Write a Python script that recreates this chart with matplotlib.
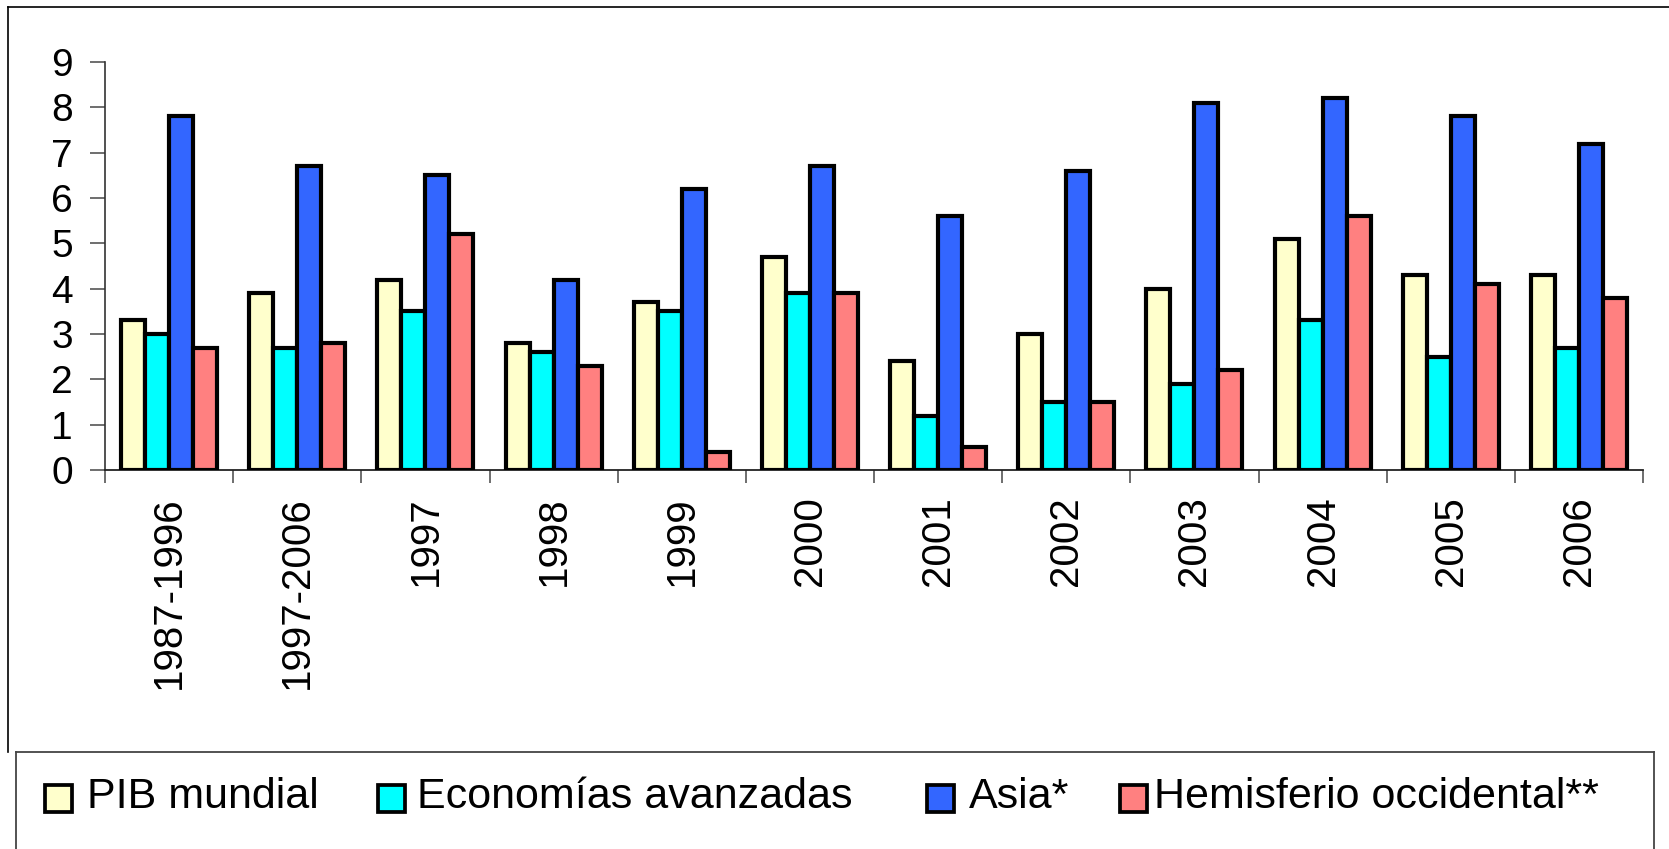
import matplotlib
matplotlib.use("Agg")
import matplotlib.pyplot as plt
import numpy as np
from matplotlib.patches import Rectangle
from matplotlib.lines import Line2D

plt.rcParams['font.family'] = ['Liberation Sans', 'DejaVu Sans']

categories = ["1987-1996", "1997-2006", "1997", "1998", "1999", "2000",
              "2001", "2002", "2003", "2004", "2005", "2006"]
series_names = ["PIB mundial", "Economías avanzadas", "Asia*", "Hemisferio occidental**"]
pib_mundial = [3.3, 3.9, 4.2, 2.8, 3.7, 4.7, 2.4, 3.0, 4.0, 5.1, 4.3, 4.3]
economias_avanzadas = [3.0, 2.7, 3.5, 2.6, 3.5, 3.9, 1.2, 1.5, 1.9, 3.3, 2.5, 2.7]
asia = [7.8, 6.7, 6.5, 4.2, 6.2, 6.7, 5.6, 6.6, 8.1, 8.2, 7.8, 7.2]
hemisferio = [2.7, 2.8, 5.2, 2.3, 0.4, 3.9, 0.5, 1.5, 2.2, 5.6, 4.1, 3.8]
y_ticks = [0, 1, 2, 3, 4, 5, 6, 7, 8, 9]

colors = ["#FFFFCC", "#00FFFF", "#3366FF", "#FF8080"]
series = [pib_mundial, economias_avanzadas, asia, hemisferio]

W, H = 1669, 849
fig = plt.figure(figsize=(W / 100, H / 100), dpi=100)
ax = fig.add_axes([105 / W, 1 - 470 / H, (1643 - 105) / W, (470 - 62) / H])

x = np.arange(len(categories))
bw = 0.187
for i, (vals, c) in enumerate(zip(series, colors)):
    ax.bar(x + (i - 1.5) * bw, vals, width=bw, color=c, edgecolor="black",
           linewidth=3.0, label=series_names[i], zorder=3)

ax.set_xlim(-0.5, len(categories) - 0.5)
ax.set_ylim(0, 9)
ax.set_yticks(y_ticks)
ax.set_yticklabels([str(v) for v in y_ticks], fontsize=28)
ax.set_xticks(x)
ax.set_xticklabels(categories, rotation=90, fontsize=29)
ax.set_xticks(np.arange(-0.5, len(categories) + 0.5, 1), minor=True)
ax.tick_params(axis='x', which='major', length=0, pad=19)
ax.tick_params(axis='x', which='minor', length=9, width=1.2, color='#555555', direction='out')
ax.tick_params(axis='y', which='major', length=11, width=1.2, color='#555555', direction='out', pad=12)

for s in ['top', 'right']:
    ax.spines[s].set_visible(False)
ax.spines['left'].set_color('#333333')
ax.spines['left'].set_linewidth(1.2)
ax.spines['bottom'].set_color('#222222')
ax.spines['bottom'].set_linewidth(1.3)


def fx(px):
    return px / W


def fy(py):
    return 1 - py / H


# outer chart frame (top + left) and legend box
fig.add_artist(Line2D([fx(8), fx(W)], [fy(7), fy(7)], color='black', lw=1.2))
fig.add_artist(Line2D([fx(8), fx(8)], [fy(7), fy(752)], color='black', lw=1.2))
fig.add_artist(Line2D([fx(16), fx(1654)], [fy(752), fy(752)], color='#444444', lw=1.3))
fig.add_artist(Line2D([fx(16), fx(16)], [fy(752), fy(H)], color='#444444', lw=1.3))
fig.add_artist(Line2D([fx(1654), fx(1654)], [fy(752), fy(H)], color='#444444', lw=1.3))

# legend (manual)
sq_x = [45, 378, 927, 1120]
txt_x = [87, 417, 969, 1154]
yc = 798
sq = 27
for name, c, sx, tx in zip(series_names, colors, sq_x, txt_x):
    fig.add_artist(Rectangle((fx(sx), fy(yc + sq / 2)), sq / W, sq / H,
                             facecolor=c, edgecolor='black', linewidth=2.7,
                             transform=fig.transFigure))
    fig.text(fx(tx), fy(yc - 1), name, fontsize=31, va='center', ha='left')

fig.savefig("out.png", dpi=100, facecolor='white')
